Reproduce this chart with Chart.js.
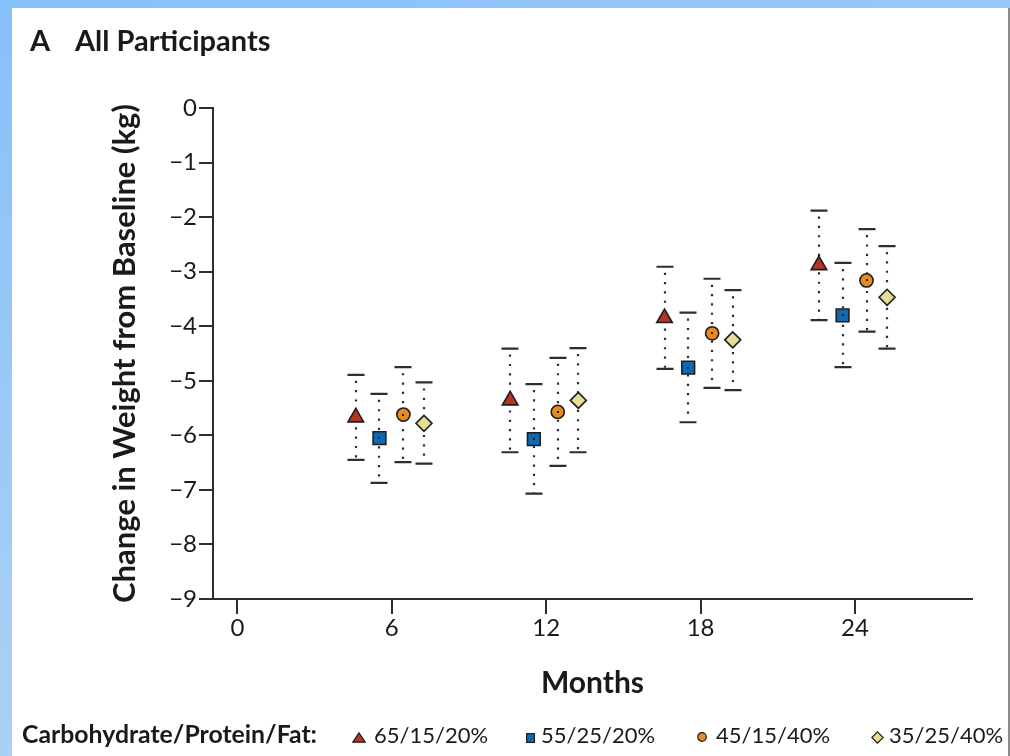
<!DOCTYPE html>
<html>
<head>
<meta charset="utf-8">
<title>All Participants</title>
<script src="https://cdn.jsdelivr.net/npm/chart.js@4.4.1/dist/chart.umd.min.js"></script>
<style>
  html, body { margin: 0; padding: 0; }
  body {
    width: 1010px; height: 756px; overflow: hidden; position: relative;
    background: linear-gradient(160deg, #86c0fb 0%, #a6cdf5 55%, #b8d8f3 100%);
    font-family: Lato, "Open Sans", sans-serif; color: #1a1a1a;
  }
  #panel {
    position: absolute; left: 12px; top: 8px; width: 996px; height: 748px;
    background: #fff; border-right: 2px solid #8c8c8c;
  }
  #chart { position: absolute; left: 0; top: 0; }
  .head { position: absolute; top: 23px; font-weight: 700; font-size: 29px; line-height: 34px; white-space: nowrap; }
  .leg { position: absolute; top: 720px; font-size: 22px; line-height: 30px; white-space: nowrap; }
  .leg.bold { font-weight: 700; font-size: 24.8px; top: 719px; }
  .mk { position: absolute; }
  .mk svg { display: block; }
</style>
</head>
<body>
<div id="panel"></div>
<canvas id="chart" width="1010" height="756"></canvas>
<div class="head" style="left:30px">A</div>
<div class="head" style="left:75px">All Participants</div>
<div class="leg bold" style="left:22px">Carbohydrate/Protein/Fat:</div>
<div id="legend"></div>
<script>
// Months of follow-up at which weight change was measured
const MONTHS = [6, 12, 18, 24];

// Diet groups (carbohydrate / protein / fat, % of energy)
const DIETS = ['65/15/20%', '55/25/20%', '45/15/40%', '35/25/40%'];

// Mean change in weight from baseline (kg) and the ends of each interval
const MEAN_65_15_20 = [-5.67, -5.36, -3.85, -2.88];
const LOW_65_15_20  = [-6.45, -6.31, -4.78, -3.89];
const HIGH_65_15_20 = [-4.89, -4.41, -2.91, -1.88];

const MEAN_55_25_20 = [-6.05, -6.07, -4.76, -3.80];
const LOW_55_25_20  = [-6.87, -7.07, -5.76, -4.75];
const HIGH_55_25_20 = [-5.24, -5.06, -3.75, -2.84];

const MEAN_45_15_40 = [-5.62, -5.57, -4.13, -3.16];
const LOW_45_15_40  = [-6.49, -6.56, -5.13, -4.10];
const HIGH_45_15_40 = [-4.75, -4.58, -3.13, -2.22];

const MEAN_35_25_40 = [-5.78, -5.36, -4.25, -3.47];
const LOW_35_25_40  = [-6.52, -6.31, -5.17, -4.41];
const HIGH_35_25_40 = [-5.03, -4.40, -3.34, -2.53];

// Axis ticks
const X_TICKS = [0, 6, 12, 18, 24];
const Y_TICKS = [0, -1, -2, -3, -4, -5, -6, -7, -8, -9];

// Marker look for each diet group, and a small sideways dodge (in months)
const STYLES = [
  { shape: 'triangle', fill: '#b83220', radius: 9,   dodge: -1.4 },
  { shape: 'rect',     fill: '#0f69b2', radius: 9,   dodge: -0.48 },
  { shape: 'circle',   fill: '#e98a1e', radius: 6.6, dodge: 0.45 },
  { shape: 'rectRot',  fill: '#e4de98', radius: 8,   dodge: 1.25 }
];

const MEANS = [MEAN_65_15_20, MEAN_55_25_20, MEAN_45_15_40, MEAN_35_25_40];
const LOWS  = [LOW_65_15_20,  LOW_55_25_20,  LOW_45_15_40,  LOW_35_25_40];
const HIGHS = [HIGH_65_15_20, HIGH_55_25_20, HIGH_45_15_40, HIGH_35_25_40];

const INK = '#2e2e2e';

const datasets = DIETS.map((name, k) => ({
  label: name,
  data: MONTHS.map((m, i) => ({ x: m + STYLES[k].dodge, y: MEANS[k][i] })),
  errLow: LOWS[k],
  errHigh: HIGHS[k],
  centerDot: k === 1 || k === 2,
  showLine: false,
  pointStyle: STYLES[k].shape,
  pointRadius: STYLES[k].radius,
  pointBackgroundColor: STYLES[k].fill,
  pointBorderColor: '#1e1e1e',
  pointBorderWidth: 1.6
}));

// Dotted vertical interval with solid end caps, drawn under the markers
const errorBars = {
  id: 'errorBars',
  beforeDatasetsDraw(chart) {
    const { ctx } = chart;
    const y = chart.scales.y;
    chart.data.datasets.forEach((ds, k) => {
      const meta = chart.getDatasetMeta(k);
      meta.data.forEach((pt, i) => {
        const x = Math.round(pt.x);
        const yHi = y.getPixelForValue(ds.errHigh[i]);
        const yLo = y.getPixelForValue(ds.errLow[i]);
        ctx.save();
        ctx.strokeStyle = INK;
        ctx.lineWidth = 2.2;
        ctx.setLineDash([2.2, 7.1]);
        ctx.lineDashOffset = -5;
        ctx.beginPath();
        ctx.moveTo(x, yHi + 1);
        ctx.lineTo(x, yLo - 1);
        ctx.stroke();
        ctx.setLineDash([]);
        ctx.lineWidth = 2.2;
        ctx.beginPath();
        ctx.moveTo(x - 8.5, yHi); ctx.lineTo(x + 8.5, yHi);
        ctx.moveTo(x - 8.5, yLo); ctx.lineTo(x + 8.5, yLo);
        ctx.stroke();
        ctx.restore();
      });
    });
  },
  afterDatasetsDraw(chart) {
    const { ctx } = chart;
    chart.data.datasets.forEach((ds, k) => {
      if (!ds.centerDot) return;
      chart.getDatasetMeta(k).data.forEach(pt => {
        ctx.fillStyle = '#222';
        ctx.fillRect(Math.round(pt.x) - 1, Math.round(pt.y) - 1, 2, 2);
      });
    });
  }
};

const tickFont = { family: 'Lato, "Open Sans", sans-serif', size: 24 };
const yTitleFont = { family: 'Lato, "Open Sans", sans-serif', size: 31, weight: 'bold' };
const xTitleFont = { family: 'Lato, "Open Sans", sans-serif', size: 30, weight: 'bold' };

new Chart(document.getElementById('chart'), {
  type: 'scatter',
  data: { datasets },
  plugins: [errorBars],
  options: {
    responsive: false,
    animation: false,
    devicePixelRatio: 1,
    layout: { padding: { top: 108, right: 38, bottom: 0, left: 0 } },
    plugins: { legend: { display: false }, tooltip: { enabled: false } },
    scales: {
      x: {
        type: 'linear',
        min: -0.95,
        max: 28.55,
        afterBuildTicks: s => { s.ticks = X_TICKS.map(v => ({ value: v })); },
        afterFit: s => { s.height = 157; },
        ticks: { font: tickFont, color: '#1a1a1a', padding: 0 },
        grid: { drawOnChartArea: false, tickLength: 15, color: INK, lineWidth: 2 },
        border: { color: INK, width: 2 },
        title: { display: true, text: 'Months', font: xTitleFont, color: '#1a1a1a', padding: { top: 0, bottom: 55 } }
      },
      y: {
        type: 'linear',
        min: -9,
        max: 0,
        afterBuildTicks: s => { s.ticks = Y_TICKS.map(v => ({ value: v })); },
        afterFit: s => { s.width = 213; },
        ticks: {
          font: tickFont, color: '#1a1a1a', padding: 2,
          callback: v => (v < 0 ? '\u2212' + Math.abs(v) : String(v))
        },
        grid: { drawOnChartArea: false, tickLength: 14, color: INK, lineWidth: 2 },
        border: { color: INK, width: 2 },
        title: { display: true, text: 'Change in Weight from Baseline (kg)', font: yTitleFont, color: '#1a1a1a', padding: { top: 106, bottom: 0 } }
      }
    }
  }
});

// Key along the bottom: marker + diet label for each group
const LEGEND_POS = [
  { mk: 352, tx: 374 },
  { mk: 526, tx: 541 },
  { mk: 697, tx: 716 },
  { mk: 871, tx: 889 }
];
const MARKS = [
  '<svg width="14" height="11"><polygon points="7,0.8 13.2,10.2 0.8,10.2" fill="#b83220" stroke="#1e1e1e" stroke-width="1.2"/></svg>',
  '<svg width="9" height="10"><rect x="0.6" y="0.6" width="7.8" height="8.8" fill="#0f69b2" stroke="#1e1e1e" stroke-width="1.2"/></svg>',
  '<svg width="10" height="10"><circle cx="5" cy="5" r="4.3" fill="#e98a1e" stroke="#1e1e1e" stroke-width="1.2"/></svg>',
  '<svg width="13" height="13"><polygon points="6.5,0.8 12.2,6.5 6.5,12.2 0.8,6.5" fill="#e4de98" stroke="#1e1e1e" stroke-width="1.2"/></svg>'
];
const MARK_TOP = [732, 733, 732, 731];
const legend = document.getElementById('legend');
DIETS.forEach((name, k) => {
  const m = document.createElement('div');
  m.className = 'mk';
  m.style.left = LEGEND_POS[k].mk + 'px';
  m.style.top = MARK_TOP[k] + 'px';
  m.innerHTML = MARKS[k];
  legend.appendChild(m);
  const t = document.createElement('div');
  t.className = 'leg';
  t.style.left = LEGEND_POS[k].tx + 'px';
  t.textContent = name;
  legend.appendChild(t);
});
</script>
</body>
</html>
